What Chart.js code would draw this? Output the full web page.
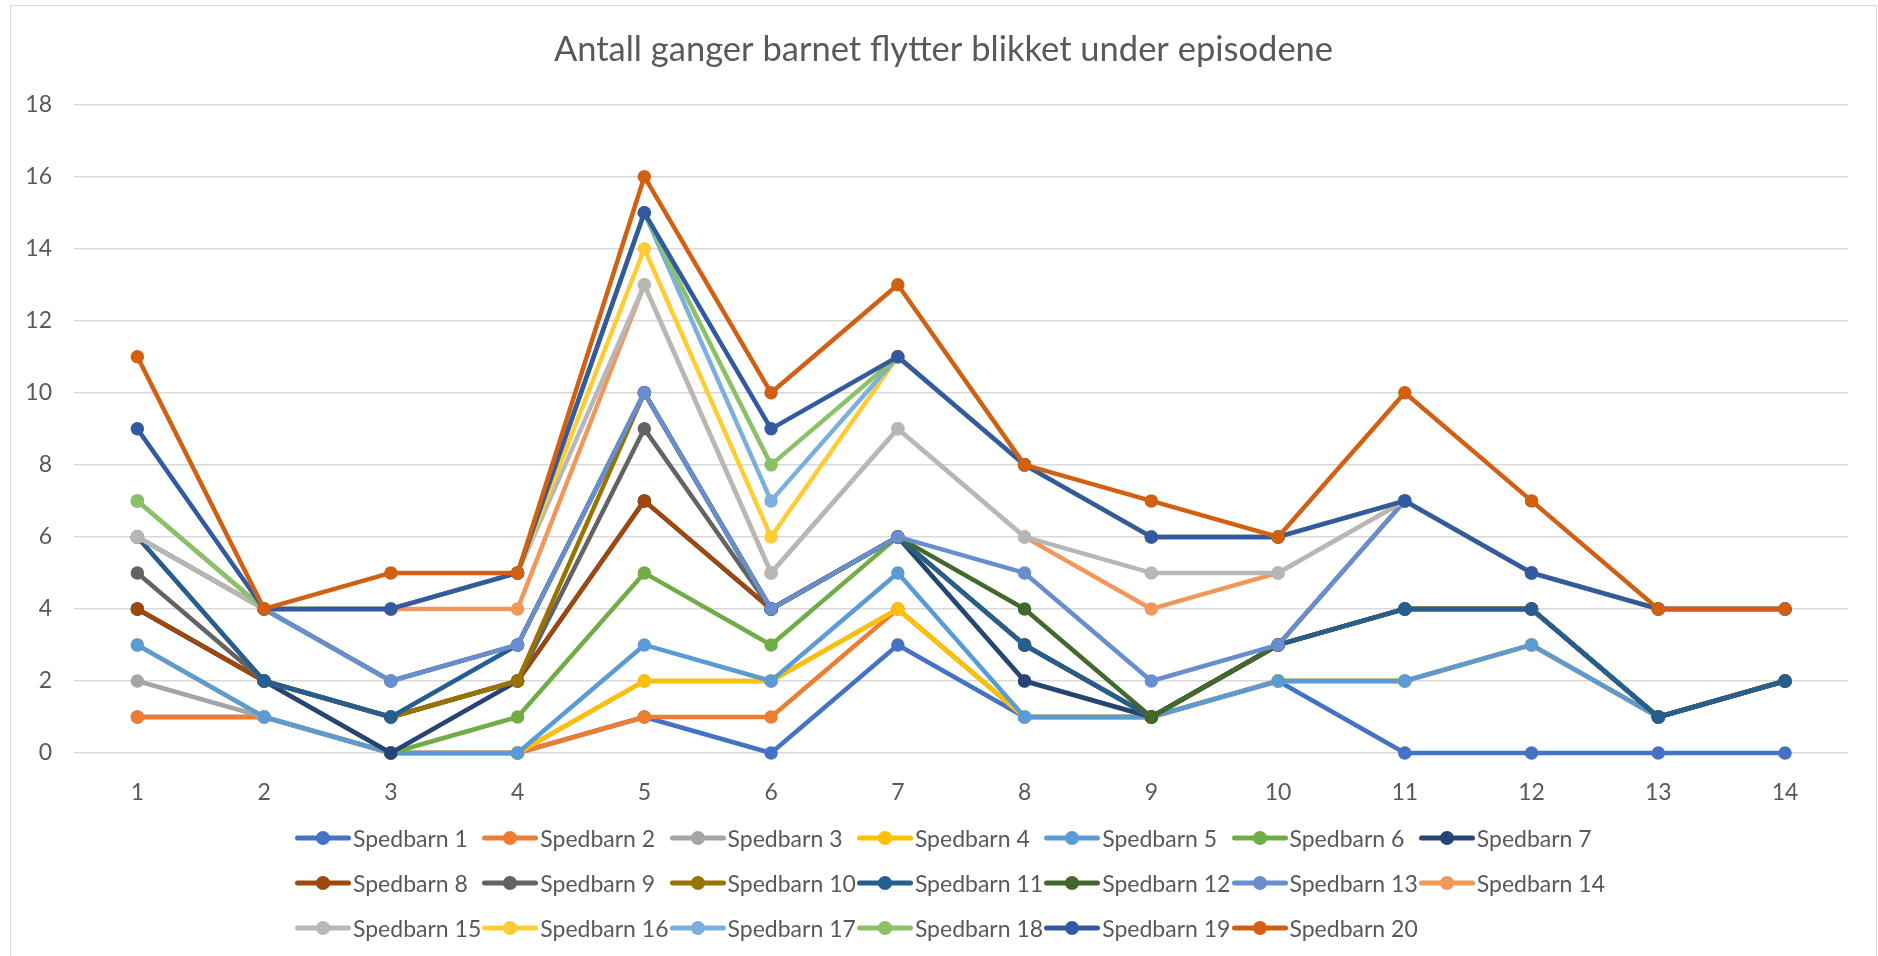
<!DOCTYPE html>
<html>
<head>
<meta charset="utf-8">
<title>Antall ganger barnet flytter blikket under episodene</title>
<script src="https://cdn.jsdelivr.net/npm/chart.js@4.4.1/dist/chart.umd.min.js"></script>
<style>
  html, body { margin: 0; padding: 0; background: #fff; }
  #wrap { position: relative; width: 1878px; height: 956px; overflow: hidden; font-family: Lato, sans-serif; }
  #frame { position: absolute; left: 10px; top: 5px; width: 1865px; height: 980px; border: 1.5px solid #d9d9d9; pointer-events: none; }
  .item { position: absolute; display: flex; align-items: center; height: 30px; color: #595959; font-size: 23px; white-space: nowrap; }
  .item svg { margin-right: 2px; }
</style>
</head>
<body>
<div id="wrap">
  <canvas id="lineChart" width="1878" height="956"></canvas>
  <div id="frame"></div>
  <div id="legend"></div>
</div>
<script>
const chartTitle = 'Antall ganger barnet flytter blikket under episodene';
const episodes = ['1', '2', '3', '4', '5', '6', '7', '8', '9', '10', '11', '12', '13', '14'];
const yTickValues = [0, 2, 4, 6, 8, 10, 12, 14, 16, 18];

// values as they sit in the chart (the workbook chart stacks the children on top of each other)
const sb1  = [1, 1, 0, 0, 1, 0, 3, 1, 1, 2, 0, 0, 0, 0];
const sb2  = [1, 1, 0, 0, 1, 1, 4, 1, 1, 2, 2, 3, 1, 2];
const sb3  = [2, 1, 0, 0, 2, 2, 4, 1, 1, 2, 2, 3, 1, 2];
const sb4  = [3, 1, 0, 0, 2, 2, 4, 1, 1, 2, 2, 3, 1, 2];
const sb5  = [3, 1, 0, 0, 3, 2, 5, 1, 1, 2, 2, 3, 1, 2];
const sb6  = [4, 2, 0, 1, 5, 3, 6, 2, 1, 3, 4, 4, 1, 2];
const sb7  = [4, 2, 0, 2, 7, 4, 6, 2, 1, 3, 4, 4, 1, 2];
const sb8  = [4, 2, 1, 2, 7, 4, 6, 3, 1, 3, 4, 4, 1, 2];
const sb9  = [5, 2, 1, 2, 9, 4, 6, 3, 1, 3, 4, 4, 1, 2];
const sb10 = [6, 2, 1, 2, 10, 4, 6, 3, 1, 3, 4, 4, 1, 2];
const sb11 = [6, 2, 1, 3, 10, 4, 6, 3, 1, 3, 4, 4, 1, 2];
const sb12 = [6, 4, 2, 3, 10, 4, 6, 4, 1, 3, 7, 5, 4, 4];
const sb13 = [6, 4, 2, 3, 10, 4, 6, 5, 2, 3, 7, 5, 4, 4];
const sb14 = [6, 4, 4, 4, 13, 5, 9, 6, 4, 5, 7, 5, 4, 4];
const sb15 = [6, 4, 4, 5, 13, 5, 9, 6, 5, 5, 7, 5, 4, 4];
const sb16 = [7, 4, 4, 5, 14, 6, 11, 8, 6, 6, 7, 5, 4, 4];
const sb17 = [7, 4, 4, 5, 15, 7, 11, 8, 6, 6, 7, 5, 4, 4];
const sb18 = [7, 4, 4, 5, 15, 8, 11, 8, 6, 6, 7, 5, 4, 4];
const sb19 = [9, 4, 4, 5, 15, 9, 11, 8, 6, 6, 7, 5, 4, 4];
const sb20 = [11, 4, 5, 5, 16, 10, 13, 8, 7, 6, 10, 7, 4, 4];

const series = [sb1, sb2, sb3, sb4, sb5, sb6, sb7, sb8, sb9, sb10,
                sb11, sb12, sb13, sb14, sb15, sb16, sb17, sb18, sb19, sb20];
const seriesNames = ['Spedbarn 1', 'Spedbarn 2', 'Spedbarn 3', 'Spedbarn 4', 'Spedbarn 5',
                     'Spedbarn 6', 'Spedbarn 7', 'Spedbarn 8', 'Spedbarn 9', 'Spedbarn 10',
                     'Spedbarn 11', 'Spedbarn 12', 'Spedbarn 13', 'Spedbarn 14', 'Spedbarn 15',
                     'Spedbarn 16', 'Spedbarn 17', 'Spedbarn 18', 'Spedbarn 19', 'Spedbarn 20'];
// office palette
const seriesColors = ['#4472C4', '#ED7D31', '#A5A5A5', '#FFC000', '#5B9BD5', '#70AD47',
                      '#264478', '#9E480E', '#636363', '#997300', '#255E91', '#43682B',
                      '#698ED0', '#F1975A', '#B7B7B7', '#FFCD33', '#7CAFDD', '#8CC168',
                      '#335AA1', '#D26012'];

const textColor = '#595959';
const tickFont = { family: 'Lato', size: 23 };

document.addEventListener('DOMContentLoaded', () => {
  const datasets = series.map((data, i) => ({
    label: seriesNames[i],
    data: data,
    borderColor: seriesColors[i],
    backgroundColor: seriesColors[i],
    pointBackgroundColor: seriesColors[i],
    pointBorderColor: seriesColors[i],
    borderWidth: 4.5,
    pointRadius: 6,
    pointBorderWidth: 1.5,
    borderJoinStyle: 'round',
    borderCapStyle: 'round',
    tension: 0,
    fill: false,
    clip: false,
    order: series.length - i // last child on top, like in Excel
  }));

  const ctx = document.getElementById('lineChart').getContext('2d');
  new Chart(ctx, {
    type: 'line',
    data: { labels: episodes, datasets: datasets },
    options: {
      responsive: false,
      animation: false,
      devicePixelRatio: 1,
      events: [],
      // title is centred on the chart frame (x 10..1877)
      layout: { padding: { left: 9, right: 0, top: 0, bottom: 153 } },
      plugins: {
        legend: { display: false },
        tooltip: { enabled: false },
        title: {
          display: true,
          text: chartTitle,
          color: textColor,
          font: { family: 'Lato', size: 34.5, weight: 'normal', lineHeight: 1.2 },
          padding: { top: 29, bottom: 34.3 }
        }
      },
      scales: {
        x: {
          offset: true,
          grid: { display: false },
          border: { display: false },
          ticks: { color: textColor, font: tickFont, padding: 18 },
          afterFit: scale => { scale.height = 50; }
        },
        y: {
          min: 0,
          max: 18,
          grid: { color: '#d9d9d9', lineWidth: 1.5, drawTicks: false },
          border: { display: false },
          ticks: { color: textColor, font: tickFont, padding: 22 },
          afterBuildTicks: axis => { axis.ticks = yTickValues.map(v => ({ value: v })); },
          afterFit: scale => { scale.width = 65; }
        },
        // empty right axis, only keeps the white gap on the right of the plot
        yGap: {
          type: 'linear',
          position: 'right',
          grid: { display: false },
          border: { display: false },
          ticks: { display: false },
          afterFit: scale => { scale.width = 29.6; }
        }
      }
    }
  });

  // Excel style legend: 7 equal columns, line + marker
  const legendEl = document.getElementById('legend');
  seriesNames.forEach((name, i) => {
    const col = i % 7;
    const row = Math.floor(i / 7);
    const c = seriesColors[i];
    const item = document.createElement('div');
    item.className = 'item';
    item.style.left = (295 + col * 187.3) + 'px';
    item.style.top = (838 + row * 45 - 15) + 'px';
    item.innerHTML = '<svg width="56" height="16">' +
      '<line x1="2.5" y1="8" x2="53.5" y2="8" stroke="' + c + '" stroke-width="5" stroke-linecap="round"/>' +
      '<circle cx="28" cy="8" r="7" fill="' + c + '"/></svg><span>' + name + '</span>';
    legendEl.appendChild(item);
  });
});
</script>
</body>
</html>
